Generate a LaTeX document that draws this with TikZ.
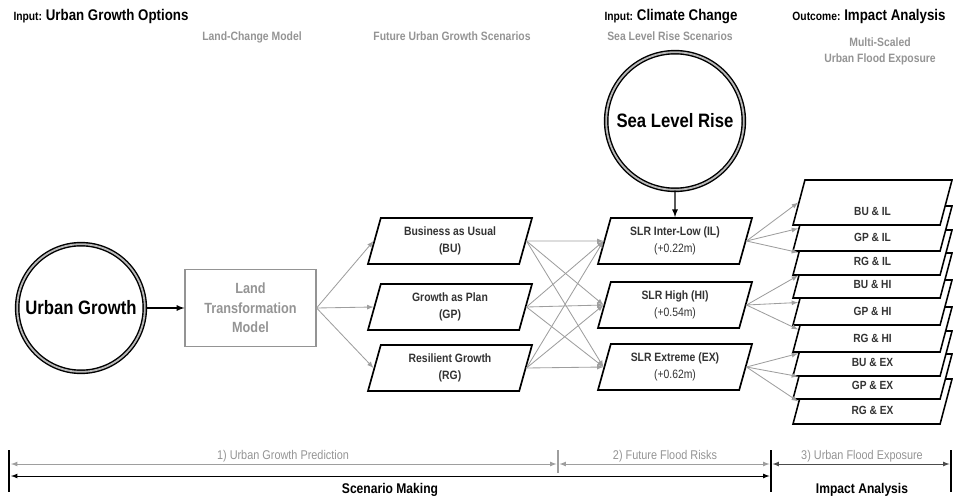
\documentclass[tikz,border=0pt]{standalone}
\usepackage{fontspec}
\setmainfont{Liberation Sans}[FakeStretch=0.86]
\usetikzlibrary{shapes.geometric}

\definecolor{lightgrey}{gray}{0.58}
\definecolor{darkgrey}{gray}{0.2}
\definecolor{linegrey}{gray}{0.62}

\tikzset{
    bigcircle/.style={circle, draw, line width=1pt, double=gray!55, double distance=1.3pt,
        minimum size=#1, inner sep=0pt, font=\fontsize{13.8}{16}\selectfont\bfseries},
    modelbox/.style={draw=lightgrey, line width=0.8pt, text=lightgrey, minimum width=3.275cm,
        minimum height=1.925cm, align=center, font=\fontsize{10.5}{13.8}\selectfont\bfseries},
    scenbox/.style={trapezium, trapezium left angle=67.5, trapezium right angle=112.5,
        trapezium stretches body, draw, line width=1.2pt, fill=white, minimum width=#1,
        minimum height=1.15cm, inner sep=1pt, align=center, text=darkgrey,
        font=\fontsize{8.6}{12}\selectfont\bfseries},
    stackbox/.style={scenbox=3.975cm, minimum height=1.125cm, line width=1.1pt,
        text height=18.5pt, text depth=0pt, font=\fontsize{8.4}{10}\selectfont\bfseries},
    greyarrow/.style={draw=linegrey, line width=0.6pt, -latex},
    blackarrow/.style={line width=0.9pt, -latex},
    headtext/.style={anchor=base, font=\fontsize{11}{13}\selectfont\bfseries},
    subtext/.style={anchor=base, text=lightgrey, align=center, font=\fontsize{8.6}{11.3}\selectfont\bfseries},
    phasetext/.style={anchor=base, text=lightgrey, font=\fontsize{9}{11}\selectfont},
    parttext/.style={anchor=base, font=\fontsize{10}{12}\selectfont\bfseries},
}

\begin{document}
\begin{tikzpicture}[x=0.025cm, y=-0.025cm]
    \useasboundingbox (0,0) rectangle (953,500);

    %Headings
    \node[headtext] (urbaninput) at (101,21) {{\fontsize{8.5}{10}\selectfont Input: }Urban Growth Options};
    \node[headtext] (climateinput) at (671,21) {{\fontsize{8.5}{10}\selectfont Input: }Climate Change};
    \node[headtext] (outcome) at (869,21) {{\fontsize{8.5}{10}\selectfont Outcome: }Impact Analysis};
    \node[subtext] (lcmhead) at (252,40) {Land-Change Model};
    \node[subtext] (futurehead) at (452,40) {Future Urban Growth Scenarios};
    \node[subtext] (slrhead) at (670,40) {Sea Level Rise Scenarios};
    \node[subtext] (exposurehead) at (880,62) {Multi-Scaled\\Urban Flood Exposure};

    %States
    \node[bigcircle=3.19cm] (urban) at (81,308) {Urban Growth};
    \node[modelbox] (ltm) at (250.5,308) {Land\\Transformation\\Model};

    \node[scenbox=4.1cm] (bu) at (450,241) {Business as Usual\\(BU)};
    \node[scenbox=4.1cm] (gp) at (450,307) {Growth as Plan\\(GP)};
    \node[scenbox=4.1cm] (rg) at (450,368) {Resilient Growth\\(RG)};

    \node[bigcircle=3.44cm] (slr) at (675,121) {Sea Level Rise};
    \node[scenbox=3.85cm] (il) at (675,241) {SLR Inter-Low (IL)\\{\mdseries(+0.22m)}};
    \node[scenbox=3.85cm] (hi) at (675,305) {SLR High (HI)\\{\mdseries(+0.54m)}};
    \node[scenbox=3.85cm] (ex) at (675,367) {SLR Extreme (EX)\\{\mdseries(+0.62m)}};

        %Stack of outcomes, drawn from the bottom up so upper ones lie on top
    \foreach \name/\ypos/\txt in {rgex/401.5/RG \& EX, gpex/376.5/GP \& EX, buex/353.5/BU \& EX,
            rghi/329.5/RG \& HI, gphi/302.5/GP \& HI, buhi/275.5/BU \& HI,
            rgil/252.5/RG \& IL, gpil/228.5/GP \& IL, buil/202.5/BU \& IL}
        \node[stackbox] (\name) at (872.5,\ypos) {\txt};

    %Edges
    \draw[blackarrow] (urban) -- (ltm);
    \draw[blackarrow] (slr) -- (il);

    \foreach \s in {bu,gp,rg}
        \draw[greyarrow] (ltm.east) -- (\s.west);

    \foreach \s in {bu,gp,rg}
        \foreach \t in {il,hi,ex}
            \draw[greyarrow] (\s.east) -- (\t.west);

    \foreach \t/\a/\b/\c in {il/buil/gpil/rgil, hi/buhi/gphi/rghi, ex/buex/gpex/rgex}
        \foreach \d in {\a,\b,\c}
            \draw[greyarrow] (\t.east) -- (\d.west);

    %Timeline
    \draw[line width=1.6pt] (9,450) -- (9,492);
    \draw[line width=1.6pt] (771,450) -- (771,492);
    \draw[line width=1.6pt] (951,450) -- (951,492);
    \draw[linegrey, line width=1pt] (558,450) -- (558,473);

    \coordinate (g0) at (11,464);
    \coordinate (g1) at (556.5,464);
    \coordinate (g2) at (559.5,464);
    \coordinate (g3) at (769.5,464);
    \coordinate (g4) at (772.5,464);
    \coordinate (g5) at (949.5,464);
    \coordinate (b0) at (11,476);
    \coordinate (b1) at (769.5,476);

    \draw[greyarrow, latex-latex] (g0) -- (g1);
    \draw[greyarrow, latex-latex] (g2) -- (g3);
    \draw[line width=0.6pt, latex-latex] (b0) -- (b1);
    \draw[black!70, line width=0.6pt, latex-latex] (g4) -- (g5);

    %Labels
    \node[phasetext] (phaseone) at (283,459) {1) Urban Growth Prediction};
    \node[phasetext] (phasetwo) at (665,459) {2) Future Flood Risks};
    \node[phasetext] (phasethree) at (862,459) {3) Urban Flood Exposure};
    \node[parttext] (scenario) at (390,493) {Scenario Making};
    \node[parttext] (impact) at (862,493) {Impact Analysis};

\end{tikzpicture}
\end{document}
